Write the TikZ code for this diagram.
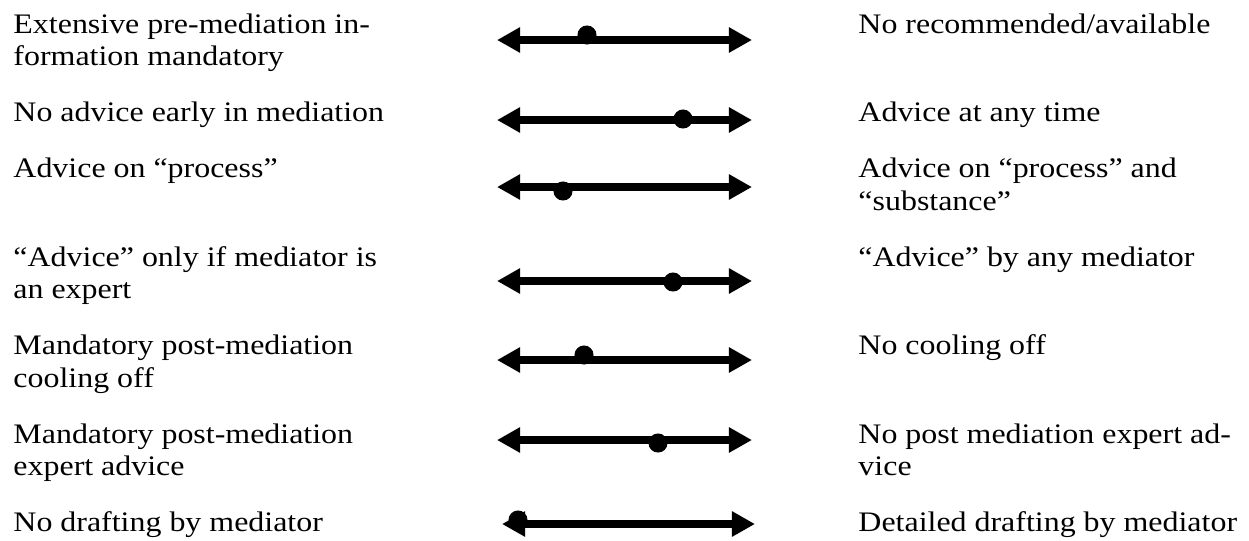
\documentclass[tikz,border=0pt]{standalone}
\usepackage{fontspec}
\setmainfont{Liberation Serif}[FakeStretch=1.13]
\usetikzlibrary{arrows.meta}
\begin{document}
\begin{tikzpicture}[x=0.42463pt,y=-0.42463pt,
  lbl/.style={anchor=base west,inner sep=0pt,align=left,font=\fontsize{12}{13.8}\selectfont},
  scale line/.style={line width=3.8pt,{Triangle[length=9.8pt,width=10.2pt]}-{Triangle[length=9.8pt,width=10.2pt]}},
  marker/.style={circle,fill=black,inner sep=0pt,minimum size=8.1pt}]
\useasboundingbox (0,0) rectangle (1249,540);
% left labels (anchored at the baseline of the last line)
\node[lbl] (l1) at (13,65.5) {Extensive pre-mediation in-\\formation mandatory};
\node[lbl] (l2) at (13,121.5) {No advice early in mediation};
\node[lbl] (l3) at (13,177.5) {Advice on “process”};
\node[lbl] (l4) at (13,298.5) {“Advice” only if mediator is\\an expert};
\node[lbl] (l5) at (13,387) {Mandatory post-mediation\\cooling off};
\node[lbl] (l6) at (13,475.5) {Mandatory post-mediation\\expert advice};
\node[lbl] (l7) at (13,531.5) {No drafting by mediator};
% right labels
\node[lbl] (r1) at (858,33) {No recommended/available};
\node[lbl] (r2) at (858,121.5) {Advice at any time};
\node[lbl] (r3) at (858,210) {Advice on “process” and\\“substance”};
\node[lbl] (r4) at (858,266) {“Advice” by any mediator};
\node[lbl] (r5) at (858,354.5) {No cooling off};
\node[lbl] (r6) at (858,475.5) {No post mediation expert ad-\\vice};
\node[lbl] (r7) at (858,531.5) {Detailed drafting by mediator};
% scale ends
\coordinate (a1) at (497,40);  \coordinate (b1) at (752,40);
\coordinate (a2) at (497,120); \coordinate (b2) at (752,120);
\coordinate (a3) at (497,187); \coordinate (b3) at (752,187);
\coordinate (a4) at (497,281); \coordinate (b4) at (752,281);
\coordinate (a5) at (497,360); \coordinate (b5) at (752,360);
\coordinate (a6) at (497,440); \coordinate (b6) at (752,440);
\coordinate (a7) at (502,524); \coordinate (b7) at (755,524);
\foreach \i in {1,...,7} \draw[scale line] (a\i) -- (b\i);
% position markers
\node[marker] (m1) at (587,35) {};
\node[marker] (m2) at (683,119) {};
\node[marker] (m3) at (563,191) {};
\node[marker] (m4) at (673,282) {};
\node[marker] (m5) at (584,355) {};
\node[marker] (m6) at (658,443) {};
\node[marker] (m7) at (518,520) {};
\end{tikzpicture}
\end{document}
